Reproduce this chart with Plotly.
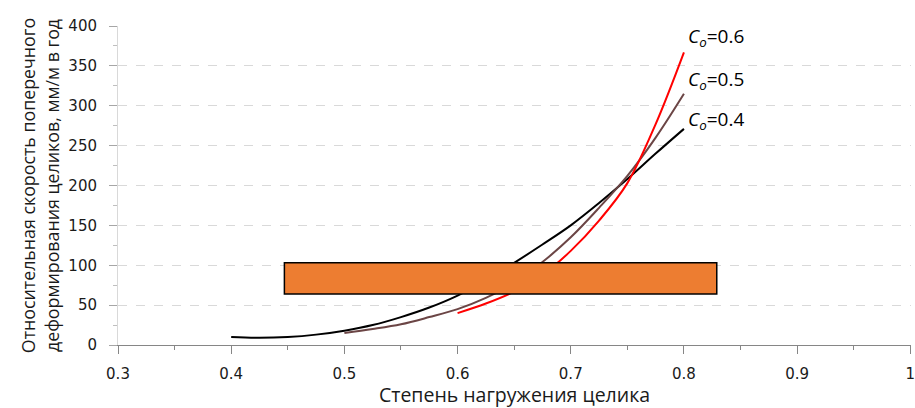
import plotly.graph_objects as go

# Data
x_c04 = [0.40, 0.425, 0.45, 0.475, 0.50, 0.525, 0.55, 0.575, 0.60, 0.625, 0.65, 0.675, 0.70, 0.725, 0.75, 0.775, 0.80]
y_c04 = [10, 9, 10, 13, 18, 25, 35, 47, 62, 81, 103, 126, 150, 178, 208, 240, 271]

x_c05 = [0.50, 0.525, 0.55, 0.575, 0.60, 0.625, 0.65, 0.675, 0.70, 0.725, 0.75, 0.775, 0.80]
y_c05 = [15, 20, 26, 35, 45, 59, 78, 104, 135, 172, 212, 260, 315]

x_c06 = [0.60, 0.625, 0.65, 0.675, 0.70, 0.725, 0.75, 0.775, 0.80]
y_c06 = [40, 52, 67, 88, 118, 156, 203, 277, 367]

series_names = ["C<sub>o</sub>=0.4", "C<sub>o</sub>=0.5", "C<sub>o</sub>=0.6"]
label_y = [282, 332, 386]
label_text = ["<i>C</i><sub><i>o</i></sub>=0.4", "<i>C</i><sub><i>o</i></sub>=0.5", "<i>C</i><sub><i>o</i></sub>=0.6"]

# Orange band
band_x = [0.447, 0.829]
band_y = [64, 103]

x_ticks = [0.3, 0.4, 0.5, 0.6, 0.7, 0.8, 0.9, 1.0]
x_tick_labels = ["0.3", "0.4", "0.5", "0.6", "0.7", "0.8", "0.9", "1"]
y_ticks = [0, 50, 100, 150, 200, 250, 300, 350, 400]

colors = ["#000000", "#6B4545", "#FF0000"]

TICK_FONT = dict(family="DejaVu Sans, sans-serif", size=15, color="#1a1a1a")
TITLE_FAMILY = "Open Sans, DejaVu Sans, sans-serif"

fig = go.Figure()
for xs, ys, name, c in zip([x_c04, x_c05, x_c06], [y_c04, y_c05, y_c06], series_names, colors):
    fig.add_trace(go.Scatter(x=xs, y=ys, mode="lines", name=name,
                             line=dict(color=c, width=2, shape="spline", smoothing=1.0),
                             showlegend=False, hoverinfo="skip"))

fig.add_shape(type="rect", xref="x", yref="y",
              x0=band_x[0], x1=band_x[1], y0=band_y[0], y1=band_y[1],
              fillcolor="#ED7D31", line=dict(color="#000000", width=1.5), layer="above")

for ty, tt in zip(label_y, label_text):
    fig.add_annotation(x=0.802, y=ty, xref="x", yref="y", text=tt, showarrow=False,
                       xanchor="left", yanchor="middle",
                       font=dict(family=TITLE_FAMILY, size=19, color="#000000"))

fig.update_layout(
    width=915, height=408,
    margin=dict(l=118, r=4, t=26, b=63),
    paper_bgcolor="white", plot_bgcolor="white",
    font=dict(family=TITLE_FAMILY, color="#000000"),
)

fig.update_xaxes(
    range=[0.3, 1.0006], tickvals=x_ticks, ticktext=x_tick_labels,
    automargin=False, ticklabelposition="outside", ticklabeloverflow="allow", ticklabelstandoff=7,
    showgrid=False, zeroline=False,
    showline=True, linecolor="#868686", linewidth=1,
    ticks="outside", ticklen=8, tickcolor="#868686",
    minor=dict(dtick=0.05, ticks="outside", ticklen=4, tickcolor="#868686", showgrid=False),
    tickfont=TICK_FONT,
    title=dict(text="Степень нагружения целика", font=dict(size=19.5, color="#1a1a1a"), standoff=8),
)

fig.update_yaxes(
    range=[0, 400], tickvals=y_ticks,
    automargin=False, ticklabeloverflow="allow", ticklabelstandoff=9,
    showgrid=True, gridcolor="#D9D9D9", griddash="dash", gridwidth=1,
    zeroline=False,
    showline=True, linecolor="#D9D9D9", linewidth=1,
    ticks="outside", ticklen=8, tickcolor="#A6A6A6",
    minor=dict(dtick=25, ticks="outside", ticklen=4, tickcolor="#BFBFBF", showgrid=False),
    tickfont=TICK_FONT,
    title=dict(text="Относительная скорость поперечного<br>деформирования целиков, мм/м в год",
               font=dict(size=17.8, color="#1a1a1a"), standoff=4),
)

fig.write_html("out.html",
               config={"displayModeBar": False},
               post_script="document.body.style.margin='0';document.body.style.overflow='hidden';")
